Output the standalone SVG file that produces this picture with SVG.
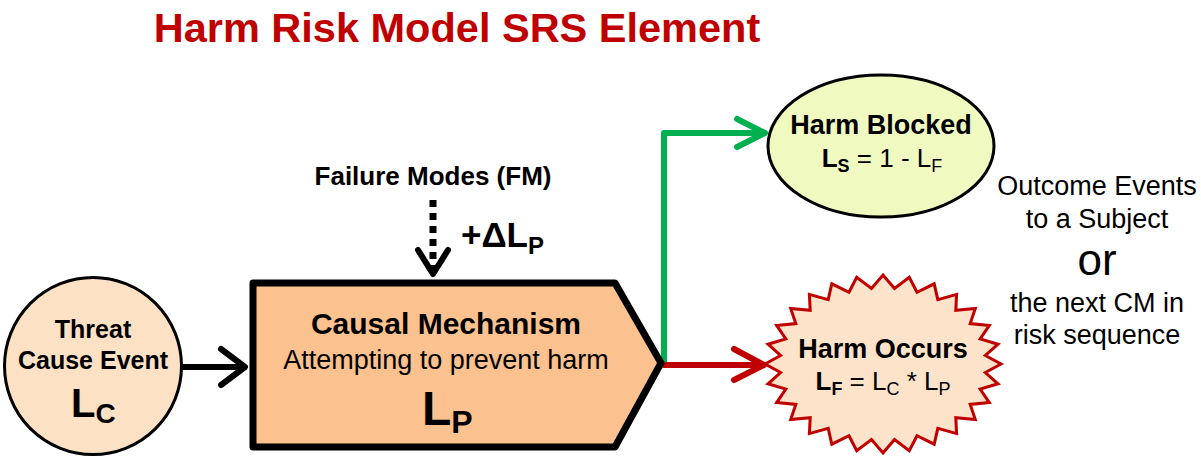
<svg xmlns="http://www.w3.org/2000/svg" width="1201" height="462" viewBox="0 0 1201 462">
<style>
text{font-family:"Liberation Sans",Arial,sans-serif;fill:#000}
.b{font-weight:bold}
.lbl{font-size:27px;text-anchor:middle}
.conn{fill:none;stroke-width:6;stroke-linecap:round;stroke-linejoin:round}
</style>
<rect width="1201" height="462" fill="#fff"/>
<text x="457" y="42" class="b" style="font-size:41.5px;fill:#C00000;text-anchor:middle">Harm Risk Model SRS Element</text>

<g id="connectors">
  <g id="c-threat-cm">
    <line x1="183" y1="367" x2="244" y2="367" class="conn" stroke="#000"/>
    <polyline points="221,349 245,367 221,385" class="conn" stroke="#000"/>
  </g>
  <g id="c-fm-cm">
    <line x1="433" y1="200" x2="433" y2="270" stroke="#000" stroke-width="7" stroke-dasharray="7,6"/>
    <polyline points="418,250 433,274 448,250" class="conn" stroke="#000"/>
  </g>
  <g id="c-cm-blocked">
    <polyline points="664,363 664,133 764,133" class="conn" stroke="#00B050"/>
    <polyline points="737,119 765,133 737,147" class="conn" stroke="#00B050"/>
  </g>
  <g id="c-cm-occurs">
    <line x1="664" y1="365" x2="762" y2="365" class="conn" stroke="#C00000"/>
    <polyline points="734,349 764,365 734,380" class="conn" stroke="#C00000"/>
  </g>
</g>

<g id="threat">
  <circle cx="93" cy="366" r="88.5" fill="#FDE1C4" stroke="#000" stroke-width="3"/>
  <text x="93" y="338" class="b" style="font-size:25px;text-anchor:middle">Threat</text>
  <text x="93" y="369" class="b" style="font-size:25px;text-anchor:middle">Cause Event</text>
  <text x="71" y="417" class="b" style="font-size:40px">L<tspan dy="6" style="font-size:28px">C</tspan></text>
</g>

<g id="failure-modes">
  <text x="433" y="185" class="b" style="font-size:26px;text-anchor:middle">Failure Modes (FM)</text>
  <text x="461" y="247" class="b" style="font-size:35px">+ΔL<tspan dy="7" style="font-size:24px">P</tspan></text>
</g>

<g id="causal-mechanism">
  <polygon points="253,283 615,283 661,363 615,447 253,447" fill="#FBC18E" stroke="#000" stroke-width="7" stroke-linejoin="round"/>
  <text x="446" y="334" class="b" style="font-size:30px;text-anchor:middle">Causal Mechanism</text>
  <text x="446" y="369" style="font-size:27px;text-anchor:middle">Attempting to prevent harm</text>
  <text x="422" y="425" class="b" style="font-size:48px">L<tspan dy="8" style="font-size:32px">P</tspan></text>
</g>

<g id="harm-blocked">
  <ellipse cx="881" cy="146" rx="113" ry="71" fill="#F0FAC0" stroke="#000" stroke-width="3"/>
  <text x="881" y="134" class="b lbl">Harm Blocked</text>
  <text x="882" y="167" style="font-size:26px;text-anchor:middle"><tspan class="b">L<tspan dy="5" style="font-size:18px">S</tspan></tspan><tspan dy="-5"> = 1 - L</tspan><tspan dy="5" style="font-size:18px">F</tspan></text>
</g>

<g id="harm-occurs">
  <polygon points="1001,364 985.4,372.5 998,383.8 980.2,389.1 989.3,402.6 970.2,404.4 975.3,419.5 955.8,417.7 956.6,433.6 937.8,428.4 934.2,444.2 917,435.7 909.3,450.8 894.5,439.5 883,453 871.5,439.5 856.7,450.8 849,435.7 831.8,444.2 828.2,428.4 809.4,433.6 810.2,417.7 790.7,419.5 795.8,404.4 776.7,402.6 785.8,389.1 768,383.8 780.6,372.5 765,364 780.6,355.5 768,344.2 785.8,338.9 776.7,325.4 795.8,323.6 790.7,308.5 810.2,310.3 809.4,294.4 828.2,299.6 831.8,283.8 849,292.3 856.7,277.2 871.5,288.5 883,275 894.5,288.5 909.3,277.2 917,292.3 934.2,283.8 937.8,299.6 956.6,294.4 955.8,310.3 975.3,308.5 970.2,323.6 989.3,325.4 980.2,338.9 998,344.2 985.4,355.5" fill="#FDE3C9" stroke="#C00000" stroke-width="3" stroke-linejoin="miter"/>
  <text x="883" y="358" class="b lbl">Harm Occurs</text>
  <text x="883" y="390" style="font-size:26px;text-anchor:middle"><tspan class="b">L<tspan dy="5" style="font-size:18px">F</tspan></tspan><tspan dy="-5"> = L</tspan><tspan dy="5" style="font-size:18px">C</tspan><tspan dy="-5"> * L</tspan><tspan dy="5" style="font-size:18px">P</tspan></text>
</g>

<g id="outcome-note">
  <text x="1097" y="195" class="lbl">Outcome Events</text>
  <text x="1097" y="228" class="lbl">to a Subject</text>
  <text x="1097" y="275" style="font-size:44px;text-anchor:middle">or</text>
  <text x="1097" y="312" class="lbl">the next CM in</text>
  <text x="1097" y="344" class="lbl">risk sequence</text>
</g>
</svg>
